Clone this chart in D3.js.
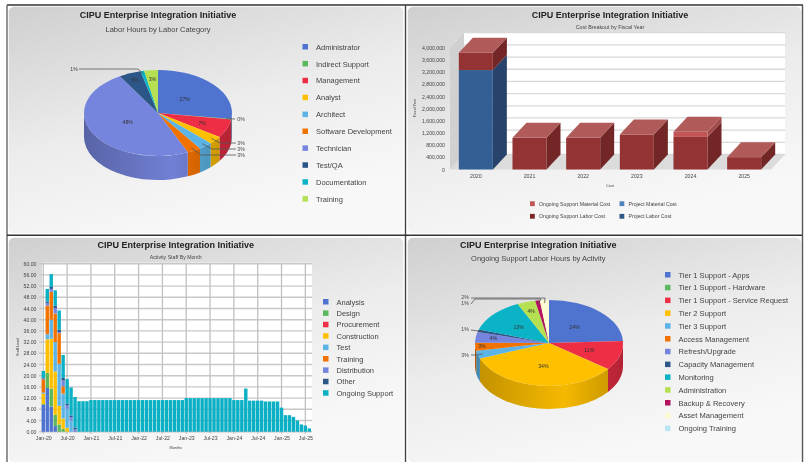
<!DOCTYPE html>
<html>
<head>
<meta charset="utf-8">
<script src="https://d3js.org/d3.v7.min.js"></script>
<style>
  html, body { margin: 0; background: #fff; }
  svg { display: block; font-family: "Liberation Sans", Arial, sans-serif; filter: blur(0.4px); }
  .axis path, .axis line { display: none; }
</style>
</head>
<body>
<svg class="chart" width="805" height="462"></svg>
<script>
var title = "CIPU Enterprise Integration Initiative";

// labor hours pie
var laborCats = ["Administrator", "Indirect Support", "Management", "Analyst", "Architect", "Software Development", "Technician", "Test/QA", "Documentation", "Training"];
var laborPct = [27.2, 0.2, 7, 3, 3, 3, 48, 4.8, 0.8, 3];
var laborColors = ["#4f74d0", "#5cb85c", "#ee2e45", "#ffc000", "#5bb4e5", "#f27200", "#7585dd", "#2c5687", "#0bb3c6", "#b5e051"];

// cost breakout
var fiscalYears = ["2020", "2021", "2022", "2023", "2024", "2025"];
var projectLabor = [3266000, 0, 0, 0, 0, 0];
var projectMaterial = [0, 0, 0, 0, 0, 0];
var ongoingLabor = [570000, 1040000, 1040000, 1150000, 1070000, 405000];
var ongoingMaterial = [0, 0, 0, 0, 170000, 0];
var costTicks = [0, 400000, 800000, 1200000, 1600000, 2000000, 2400000, 2800000, 3200000, 3600000, 4000000];

// activity staff by month, Jan-20 to Aug-25
var monthTicks = ["Jan-20", "Jul-20", "Jan-21", "Jul-21", "Jan-22", "Jul-22", "Jan-23", "Jul-23", "Jan-24", "Jul-24", "Jan-25", "Jul-25"];
var staffTicks = [0, 4, 8, 12, 16, 20, 24, 28, 32, 36, 40, 44, 48, 52, 56, 60];
var activities = ["Analysis", "Design", "Procurement", "Construction", "Test", "Training", "Distribution", "Other", "Ongoing Support"];
var activityColors = ["#4f74d0", "#5cb85c", "#ee2e45", "#ffc000", "#5bb4e5", "#f27200", "#7585dd", "#2c5687", "#0bb0c4"];
var analysis = [9.6, 15.6, 9, 2];
var design = [0.3, 5.4, 6.4, 4, 2.6, 1];
var procurement = [];
var construction = [3.7, 12, 17.8, 15.5, 6.6, 3.7, 1.4];
var test = [0.4, 1.8, 6.8, 10.5, 15.1, 8.9, 6.8, 4];
var training = [4.7, 10.2, 10, 10.2, 10.9, 2.6];
var distribution = [0.3, 1, 1, 2, 0.4, 2.1, 1.2, 1.2, 0.8];
var other = [0.2, 0.5, 0.7, 0.8, 0.8, 0.9, 0.6, 0.6, 0.7];
var ongoing = [2.5, 4.5, 4.6, 5.5, 6.9, 8.2, 8.8, 10, 10.9, 10.9, 10.9, 10.9,
    11.3, 11.3, 11.3, 11.3, 11.3, 11.3, 11.3, 11.3, 11.3, 11.3, 11.3, 11.3,
    11.3, 11.3, 11.3, 11.3, 11.3, 11.3, 11.3, 11.3, 11.3, 11.3, 11.3, 11.3,
    12, 12, 12, 12, 12, 12, 12, 12, 12, 12, 12, 12,
    11.3, 11.3, 11.3, 15.4, 11.1, 11.1, 11.1, 11.1, 10.8, 10.8, 10.8, 10.8,
    8.6, 5.9, 5.9, 5.3, 4, 2.6, 2.2, 1.2];

// ongoing support pie
var supportCats = ["Tier 1 Support - Apps", "Tier 1 Support - Hardware", "Tier 1 Support - Service Request", "Tier 2 Support", "Tier 3 Support", "Access Management", "Refresh/Upgrade", "Capacity Management", "Monitoring", "Administration", "Backup & Recovery", "Asset Management", "Ongoing Training"];
var supportPct = [24.4, 0, 11.1, 34, 3, 3, 4, 1, 13, 4, 1, 2, 0];
var supportColors = ["#4f74d0", "#5cb85c", "#ee2e45", "#ffc000", "#5bb4e5", "#f27200", "#7585dd", "#2c5687", "#0bb3c6", "#b5e051", "#b2125e", "#fdf9d0", "#b9e6f5"];

var svg = d3.select(".chart");
var defs = svg.append("defs");
var grad = defs.append("linearGradient").attr("id", "panelBg")
    .attr("x1", 0).attr("y1", 0).attr("x2", 0.45).attr("y2", 1);
grad.append("stop").attr("offset", 0).attr("stop-color", "#cfcfcf");
grad.append("stop").attr("offset", 0.55).attr("stop-color", "#ececec");
grad.append("stop").attr("offset", 1).attr("stop-color", "#f8f8f8");

// frame and panels
[[8, 6, 396, 228], [407, 6, 395, 228], [8, 237, 396, 226], [407, 237, 395, 226]].forEach(function (p) {
    svg.append("rect").attr("x", p[0]).attr("y", p[1]).attr("width", p[2]).attr("height", p[3])
        .attr("rx", 6).attr("fill", "url(#panelBg)").attr("stroke", "#fff").attr("stroke-width", 1.5);
});
[[7, 5, 803, 5, "#333"], [7, 5, 7, 462, "#666"], [405.5, 5, 405.5, 462, "#444"], [7, 235.3, 803, 235.3, "#333"], [802.5, 5, 802.5, 462, "#555"]].forEach(function (l) {
    svg.append("line").attr("x1", l[0]).attr("y1", l[1]).attr("x2", l[2]).attr("y2", l[3])
        .attr("stroke", l[4]).attr("stroke-width", 1.4);
});

function text(x, y, s, size, opts) {
    opts = opts || {};
    return svg.append("text").attr("x", x).attr("y", y).attr("dy", "0.35em")
        .attr("text-anchor", opts.anchor || "middle")
        .attr("font-size", size)
        .attr("font-weight", opts.weight || null)
        .attr("fill", opts.fill || "#444")
        .attr("transform", opts.rotate ? "rotate(-90 " + x + " " + y + ")" : null)
        .text(s);
}

function legend(names, colors, x, y0, step, size) {
    names.forEach(function (n, i) {
        svg.append("rect").attr("x", x).attr("y", y0 + i * step - 3).attr("width", 5.5).attr("height", 5.5).attr("fill", colors[i]);
        text(x + 13.5, y0 + i * step, n, size, {anchor: "start"});
    });
}

function drawPie(opt) {
    var g = svg.append("g").attr("transform", "translate(" + opt.cx + "," + opt.cy + ")");
    var rx = opt.rx, ry = opt.ry, depth = opt.depth;
    var slices = d3.pie().sort(null)(opt.values);
    var total = d3.sum(opt.values);
    var pt = function (a, f) { return [rx * f * Math.sin(a), -ry * f * Math.cos(a)]; };

    // side wall, only the front half of the rim shows
    slices.forEach(function (s, i) {
        var a0 = Math.max(s.startAngle, Math.PI / 2), a1 = Math.min(s.endAngle, 3 * Math.PI / 2);
        if (a1 <= a0) return;
        var id = opt.id + "side" + i, c = d3.color(opt.colors[i]);
        var lg = defs.append("linearGradient").attr("id", id).attr("gradientUnits", "userSpaceOnUse")
            .attr("x1", -rx).attr("x2", rx).attr("y1", 0).attr("y2", 0);
        lg.append("stop").attr("offset", 0).attr("stop-color", c.darker(0.8));
        lg.append("stop").attr("offset", 0.6).attr("stop-color", c.darker(0.1));
        lg.append("stop").attr("offset", 1).attr("stop-color", c.darker(0.8));
        var p0 = pt(a0, 1), p1 = pt(a1, 1);
        g.append("path").attr("fill", "url(#" + id + ")")
            .attr("d", "M" + p0 + "A" + rx + "," + ry + " 0 0 1 " + p1 +
                "L" + [p1[0], p1[1] + depth] + "A" + rx + "," + ry + " 0 0 0 " + [p0[0], p0[1] + depth] + "Z");
    });

    // top face: circular arcs squashed into an ellipse
    var arc = d3.arc().innerRadius(0).outerRadius(rx);
    g.append("g").attr("transform", "scale(1," + (ry / rx) + ")")
        .selectAll("path").data(slices).enter().append("path")
        .attr("d", arc).attr("fill", function (d, i) { return opt.colors[i]; });

    // percent labels, inside the slice or out on a leader
    slices.forEach(function (s, i) {
        var pct = d3.format(".0f")(opt.values[i] / total * 100) + "%";
        var mid = (s.startAngle + s.endAngle) / 2;
        if (opt.leaders[i]) {
            var l = opt.leaders[i];
            var pts = [pt(mid, 0.93)].concat(l.via.map(function (v) { return [v[0] - opt.cx, v[1] - opt.cy]; }));
            g.append("polyline").attr("points", pts.join(" ")).attr("fill", "none").attr("stroke", "#555").attr("stroke-width", 0.8);
            text(l.at[0], l.at[1], pct, 5.2);
        } else if (opt.inner[i]) {
            var q = pt(mid, opt.inner[i]);
            text(opt.cx + q[0], opt.cy + q[1], pct, 5.2, {fill: "#333"});
        }
    });
}

// panel 1
text(158, 15, title, 9, {weight: "bold", fill: "#222"});
text(158, 29, "Labor Hours by Labor Category", 7.5, {});
drawPie({
    id: "labor", cx: 158, cy: 113, rx: 74, ry: 43, depth: 24,
    values: laborPct, colors: laborColors,
    inner: {0: 0.48, 2: 0.64, 6: 0.46, 7: 0.82, 9: 0.8},
    leaders: {
        1: {at: [241, 119], via: [[235, 119]]},
        3: {at: [241, 143], via: [[220, 143], [236, 143]]},
        4: {at: [241, 149], via: [[212, 149], [236, 149]]},
        5: {at: [241, 155], via: [[201, 155], [236, 155]]},
        8: {at: [74, 69], via: [[138, 69], [79, 69]]}
    }
});
legend(laborCats, laborColors, 302.5, 47, 16.9, 7.5);

// panel 2, 3d stacked columns
text(610, 15, title, 9, {weight: "bold", fill: "#222"});
text(610, 27, "Cost Breakout by Fiscal Year", 5.35, {});
var dx = 14, dy = -15;
var costX = d3.scaleBand().domain(fiscalYears).range([449, 771]).paddingInner(0.366).paddingOuter(0.183);
var costY = d3.scaleLinear().domain([0, 4000000]).range([169.5, 47.7]);
var wallL = costX.range()[0] + 1, wallR = costX.range()[1];
svg.append("polygon").attr("fill", "#d0d0d0")
    .attr("points", [[wallL, costY(0)], [wallL + dx, costY(0) + dy], [wallL + dx, costY(4000000) + dy], [wallL, costY(4000000)]].join(" "));
svg.append("polygon").attr("fill", "#dcdcdc")
    .attr("points", [[wallL, costY(0)], [wallR, costY(0)], [wallR + dx, costY(0) + dy], [wallL + dx, costY(0) + dy]].join(" "));
svg.append("rect").attr("x", wallL + dx).attr("y", costY(4000000) + dy).attr("width", wallR - wallL).attr("height", costY(0) - costY(4000000)).attr("fill", "#fff");
svg.append("g").selectAll("line").data(costTicks).enter().append("line")
    .attr("x1", wallL + dx).attr("x2", wallR + dx)
    .attr("y1", function (d) { return costY(d) + dy; }).attr("y2", function (d) { return costY(d) + dy; })
    .attr("stroke", "#d8d8d8").attr("stroke-width", 1.3);
svg.append("g").selectAll("line").data(costTicks).enter().append("line")
    .attr("x1", wallL).attr("x2", wallL + dx)
    .attr("y1", function (d) { return costY(d); }).attr("y2", function (d) { return costY(d) + dy; })
    .attr("stroke", "#dcdcdc").attr("stroke-width", 0.6);

var costKeys = ["projectLabor", "projectMaterial", "ongoingLabor", "ongoingMaterial"];
var costColors = {
    projectLabor: ["#345f94", "#27436b"], projectMaterial: ["#4f81bd", "#3a6190"],
    ongoingLabor: ["#933333", "#722626"], ongoingMaterial: ["#c25656", "#a04a4a"]
};
var costRows = fiscalYears.map(function (y, i) {
    return {year: y, projectLabor: projectLabor[i], projectMaterial: projectMaterial[i], ongoingLabor: ongoingLabor[i], ongoingMaterial: ongoingMaterial[i]};
});
d3.stack().keys(costKeys)(costRows).forEach(function (layer) {
    layer.forEach(function (d) {
        if (d[1] <= d[0]) return;
        var x = costX(d.data.year), w = costX.bandwidth(), y0 = costY(d[0]), y1 = costY(d[1]), c = costColors[layer.key];
        svg.append("polygon").attr("fill", c[1])
            .attr("points", [[x + w, y0], [x + w + dx, y0 + dy], [x + w + dx, y1 + dy], [x + w, y1]].join(" "));
        svg.append("rect").attr("x", x).attr("y", y1).attr("width", w).attr("height", y0 - y1).attr("fill", c[0]);
    });
});
costRows.forEach(function (r) {
    var x = costX(r.year), w = costX.bandwidth();
    var top = costY(r.projectLabor + r.projectMaterial + r.ongoingLabor + r.ongoingMaterial);
    svg.append("polygon").attr("fill", "#b05a5a")
        .attr("points", [[x, top], [x + w, top], [x + w + dx, top + dy], [x + dx, top + dy]].join(" "));
});
svg.append("g").attr("class", "axis").attr("transform", "translate(447,0)")
    .call(d3.axisLeft(costY).tickValues(costTicks).tickSize(0).tickPadding(2).tickFormat(d3.format(",")))
    .call(function (a) { a.selectAll("text").attr("font-size", 5.2).attr("font-family", null).attr("fill", "#444"); });
svg.append("g").attr("class", "axis").attr("transform", "translate(0,173)")
    .call(d3.axisBottom(costX).tickSize(0).tickPadding(1))
    .call(function (a) { a.selectAll("text").attr("font-size", 5.2).attr("fill", "#444"); });
text(415, 108, "Fiscal Year", 3.8, {rotate: true});
text(610, 186, "Cost", 3.8, {});
[["Ongoing Support Material Cost", "#c25656", 530, 203.7], ["Project Material Cost", "#4f81bd", 619.5, 203.7],
 ["Ongoing Support Labor Cost", "#7e2626", 530, 216.3], ["Project Labor Cost", "#2c5687", 619.5, 216.3]].forEach(function (k) {
    svg.append("rect").attr("x", k[2]).attr("y", k[3] - 2.4).attr("width", 4.8).attr("height", 4.8).attr("fill", k[1]);
    text(k[2] + 9, k[3], k[0], 5.2, {anchor: "start"});
});

// panel 3, stacked monthly columns
text(175.7, 245, title, 9, {weight: "bold", fill: "#222"});
text(175.7, 257, "Activity Staff By Month", 5.2, {});
var staffRows = ongoing.map(function (v, i) {
    return {
        month: i, Analysis: analysis[i] || 0, Design: design[i] || 0, Procurement: procurement[i] || 0,
        Construction: construction[i] || 0, Test: test[i] || 0, Training: training[i] || 0,
        Distribution: distribution[i] || 0, Other: other[i] || 0, "Ongoing Support": v
    };
});
var monthX = d3.scaleBand().domain(d3.range(ongoing.length)).range([41.3, 311.3]).paddingInner(0.14).paddingOuter(0.07);
var staffY = d3.scaleLinear().domain([0, 60]).range([431.7, 263.7]);
var monthTickIdx = monthTicks.map(function (m, i) { return i * 6; });
var monthMid = function (i) { return monthX(i) + monthX.bandwidth() / 2; };
svg.append("rect").attr("x", 42).attr("y", staffY(60) - 1).attr("width", 270).attr("height", staffY(0) - staffY(60) + 1).attr("fill", "#fff");
svg.append("g").selectAll("line").data(staffTicks).enter().append("line")
    .attr("x1", 39).attr("x2", 312).attr("y1", staffY).attr("y2", staffY)
    .attr("stroke", "#c8c8c8").attr("stroke-width", 1.4);
svg.append("g").selectAll("line").data(monthTickIdx).enter().append("line")
    .attr("x1", monthMid).attr("x2", monthMid).attr("y1", staffY(60)).attr("y2", staffY(0) + 2)
    .attr("stroke", "#c0c0c0").attr("stroke-width", 1.3);
svg.append("g").selectAll("g").data(d3.stack().keys(activities)(staffRows)).enter().append("g")
    .attr("fill", function (d, i) { return activityColors[i]; })
    .selectAll("rect").data(function (d) { return d; }).enter().append("rect")
    .attr("x", function (d) { return monthX(d.data.month); })
    .attr("width", monthX.bandwidth())
    .attr("y", function (d) { return staffY(d[1]); })
    .attr("height", function (d) { return staffY(d[0]) - staffY(d[1]); });
svg.append("g").attr("class", "axis").attr("transform", "translate(38.5,0)")
    .call(d3.axisLeft(staffY).tickValues(staffTicks).tickSize(0).tickPadding(2).tickFormat(d3.format(".2f")))
    .call(function (a) { a.selectAll("text").attr("font-size", 5.2).attr("fill", "#444"); });
var monthAxisScale = d3.scaleOrdinal().domain(monthTickIdx).range(monthTickIdx.map(monthMid));
svg.append("g").attr("class", "axis").attr("transform", "translate(0,435)")
    .call(d3.axisBottom(monthAxisScale).tickSize(0).tickPadding(1).tickFormat(function (d, i) { return monthTicks[i]; }))
    .call(function (a) { a.selectAll("text").attr("font-size", 5.2).attr("fill", "#444"); });
text(17.5, 347, "Staff Level", 3.8, {rotate: true});
text(175.7, 448, "Months", 3.8, {});
legend(activities, activityColors, 323, 302, 11.4, 7.5);

// panel 4
text(538.3, 245, title, 9, {weight: "bold", fill: "#222"});
text(538.3, 258.7, "Ongoing Support Labor Hours by Activity", 7.45, {});
drawPie({
    id: "support", cx: 549, cy: 343, rx: 74, ry: 43, depth: 23,
    values: supportPct, colors: supportColors,
    inner: {0: 0.5, 2: 0.57, 3: 0.54, 5: 0.91, 6: 0.76, 8: 0.55, 9: 0.78},
    leaders: {
        4: {at: [465, 355], via: [[477, 355], [471, 355]]},
        7: {at: [465, 329], via: [[471, 330]]},
        10: {at: [465, 303], via: [[541, 299], [475, 299], [471, 304]]},
        11: {at: [465, 297], via: [[545, 298], [471, 298]]}
    }
});
legend(supportCats, supportColors, 665, 275, 12.8, 7.55);
</script>
</body>
</html>
